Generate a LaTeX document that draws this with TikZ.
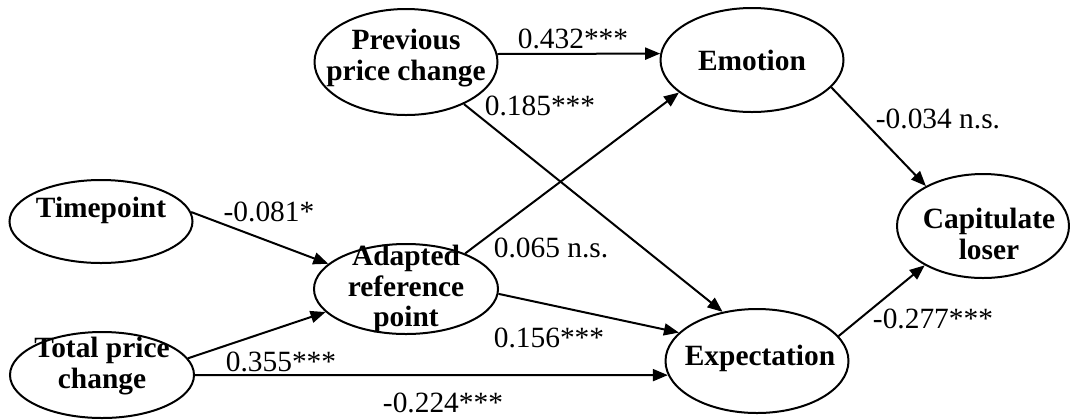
\documentclass[tikz,border=0pt]{standalone}
\usepackage{fontspec}
\setmainfont{Liberation Serif}
\usetikzlibrary{shapes.geometric,arrows.meta}

\begin{document}
\begin{tikzpicture}[x=0.5pt, y=-0.5pt,
    latent/.style={draw, ellipse, line width=1pt, inner sep=0pt,
      minimum width=91.5pt, minimum height=52pt},
    vartext/.style={align=center, inner sep=0pt,
      font=\fontsize{14.7}{15.2}\selectfont\bfseries},
    coef/.style={inner sep=0pt, font=\fontsize{14.7}{15.2}\selectfont},
    effect/.style={line width=1pt, -{Triangle[length=7.5pt, width=6pt]}}]
    \useasboundingbox (0,0) rectangle (1070,419);

    % latent variables
    \node[latent, minimum height=53pt] (prev) at (406,62) {};
    \node[latent] (emot) at (752,60) {};
    \node[latent, minimum height=41.5pt] (time) at (101,221.5) {};
    \node[latent, minimum width=92pt, minimum height=45pt] (adapt) at (406,289) {};
    \node[latent, minimum width=92pt, minimum height=43pt] (total) at (102,375) {};
    \node[latent] (expect) at (757,361) {};
    \node[latent, minimum width=86pt] (capit) at (983,226) {};

    \node[vartext] (prevtext) at (406,58) {Previous\\price change};
    \node[vartext] (emottext) at (752,60) {Emotion};
    \node[vartext] (timetext) at (101,210) {Timepoint};
    \node[vartext] (adapttext) at (406,289) {Adapted\\reference\\point};
    \node[vartext] (totaltext) at (102,366) {Total price\\change};
    \node[vartext] (expecttext) at (760,358) {Expectation};
    \node[vartext] (capittext) at (989,234) {Capitulate\\loser};

    % paths
    \draw[effect] (prev.5) -- (emot.176);
    \draw[effect] (prev.-36) -- (expect.125);
    \draw[effect] (adapt.31) -- (emot.204);
    \draw[effect] (time.6) -- (adapt.162);
    \draw[effect] (total.11) -- (adapt.196);
    \draw[effect] (total.east) -- (expect.189);
    \draw[effect] (adapt.-3) -- (expect.160);
    \draw[effect] (emot.-19) -- (capit.145);
    \draw[effect] (expect.17) -- (capit.214);

    % coefficients
    \node[coef] (c432) at (573,39) {0.432***};
    \node[coef] (c185) at (540,106) {0.185***};
    \node[coef] (c034) at (938,119) {-0.034 n.s.};
    \node[coef] (c081) at (269,212) {-0.081*};
    \node[coef] (c065) at (551,248) {0.065 n.s.};
    \node[coef] (c156) at (549,338) {0.156***};
    \node[coef] (c355) at (281,362) {0.355***};
    \node[coef] (c224) at (443,403) {-0.224***};
    \node[coef] (c277) at (933,319) {-0.277***};
\end{tikzpicture}
\end{document}
